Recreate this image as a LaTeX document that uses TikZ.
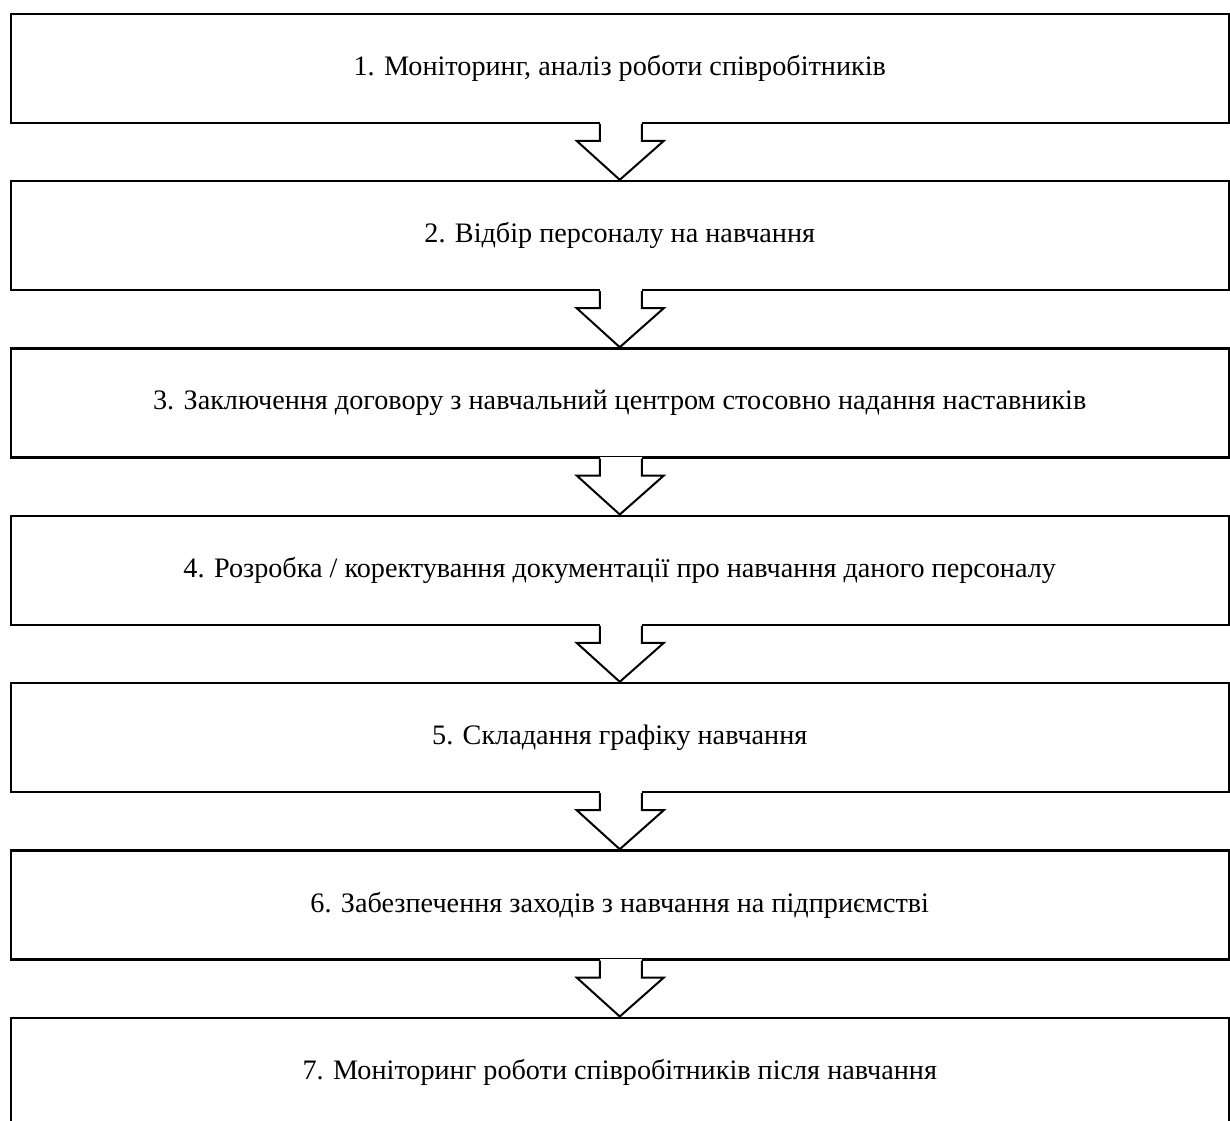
\documentclass[tikz,border=0pt]{standalone}
\usepackage{fontspec}
\setmainfont{Liberation Serif}
\usetikzlibrary{calc}
\begin{document}
\begin{tikzpicture}[x=0.5pt,y=-0.5pt,
  stepbox/.style={draw, line width=1.2pt, minimum width=609pt, minimum height=54.5pt,
    inner sep=0pt, anchor=north, font=\fontsize{14.1}{16}\selectfont},
  flow/.style={draw, line width=1pt, line join=miter}]
\useasboundingbox (0,0) rectangle (1230,1120);
\node[stepbox] (b1) at (619.75,12.5) {1. Моніторинг, аналіз роботи співробітників};
\node[stepbox] (b2) at (619.75,179.8) {2. Відбір персоналу на навчання};
\node[stepbox] (b3) at (619.75,347.2) {3. Заключення договору з навчальний центром стосовно надання наставників};
\node[stepbox] (b4) at (619.75,514.5) {4. Розробка / коректування документації про навчання даного персоналу};
\node[stepbox] (b5) at (619.75,681.8) {5. Складання графіку навчання};
\node[stepbox] (b6) at (619.75,849.2) {6. Забезпечення заходів з навчання на підприємстві};
\node[stepbox] (b7) at (619.75,1016.5) {7. Моніторинг роботи співробітників після навчання};
\foreach \i/\j in {1/2,2/3,3/4,4/5,5/6,6/7}{
  \fill[white] ($(b\i.south)+(-19.8,-2)$) rectangle ($(b\i.south)+(21.8,2)$);
  \draw[flow] ($(b\i.south)+(-20,0)$) -- ++(0,17) -- ++(-23,0) -- (b\j.north)
     -- ($(b\i.south)+(44,17)$) -- ++(-22,0) -- ++(0,-17);
}
\end{tikzpicture}
\end{document}
